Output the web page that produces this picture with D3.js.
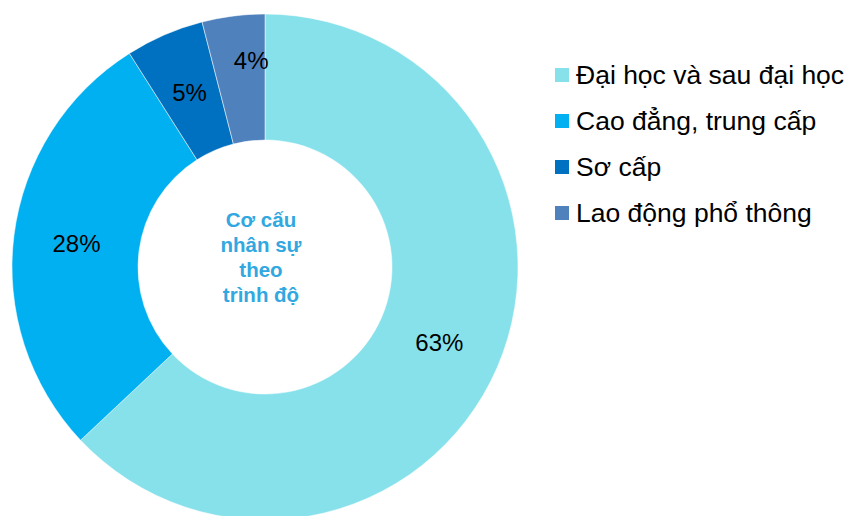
<!DOCTYPE html>
<html>
<head>
<meta charset="utf-8">
<script src="https://cdn.jsdelivr.net/npm/d3@7"></script>
<style>
  body { margin: 0; background: #fff; }
  text { font-family: "Liberation Sans", Arial, sans-serif; }
</style>
</head>
<body>
<script>
// donut: co cau nhan su theo trinh do

var categories = ["Đại học và sau đại học", "Cao đẳng, trung cấp", "Sơ cấp", "Lao động phổ thông"];
var values = [63, 28, 5, 4];
var colors = ["#87E1EB", "#00B0F0", "#0070C0", "#4F81BD"];
var centerLines = ["Cơ cấu", "nhân sự", "theo", "trình độ"];

var svg = d3.select("body").append("svg")
  .attr("width", 853)
  .attr("height", 516);

var cx = 265, cy = 267;
var outerR = 253, innerR = 127;

var pie = d3.pie().sort(null).value(function(d){ return d; });
var arcs = pie(values);
var arc = d3.arc().innerRadius(innerR).outerRadius(outerR);
var labelArc = d3.arc().innerRadius(190).outerRadius(190);

var g = svg.append("g").attr("transform", "translate(" + cx + "," + cy + ")");

g.selectAll(".slice")
  .data(arcs)
  .enter()
  .append("path")
  .attr("class", "slice")
  .attr("d", arc)
  .style("fill", function(d, i){ return colors[i]; })
  .style("stroke", "#fff")
  .style("stroke-width", "0.5px");

g.selectAll(".pct")
  .data(arcs)
  .enter()
  .append("text")
  .attr("class", "pct")
  .attr("transform", function(d){
    var c = labelArc.centroid(d);
    // small slice label sits higher up, like excel does it
    if (d.data < 5) { c = [c[0] + 10, c[1] - 18]; }
    return "translate(" + c + ")";
  })
  .attr("text-anchor", "middle")
  .attr("dy", "0.35em")
  .style("font-size", "24px")
  .style("fill", "#000")
  .text(function(d){ return d.data + "%"; });

// center title
g.selectAll(".center")
  .data(centerLines)
  .enter()
  .append("text")
  .attr("class", "center")
  .attr("x", -4)
  .attr("y", function(d, i){ return -40 + i * 25; })
  .attr("text-anchor", "middle")
  .style("font-size", "20.5px")
  .style("font-weight", "bold")
  .style("fill", "#31A8E0")
  .text(function(d){ return d; });

// legend
var legend = svg.append("g").attr("transform", "translate(555, 0)");
var rowY = d3.scaleBand().domain(categories).range([52, 236]);

var rows = legend.selectAll(".row")
  .data(categories)
  .enter()
  .append("g")
  .attr("class", "row")
  .attr("transform", function(d){ return "translate(0," + (rowY(d) + rowY.bandwidth() / 2) + ")"; });

rows.append("rect")
  .attr("x", 0)
  .attr("y", -7)
  .attr("width", 14)
  .attr("height", 14)
  .style("fill", function(d, i){ return colors[i]; });

rows.append("text")
  .attr("x", 21)
  .attr("dy", "0.35em")
  .style("font-size", "26.5px")
  .style("fill", "#000")
  .text(function(d){ return d; });
</script>
</body>
</html>
